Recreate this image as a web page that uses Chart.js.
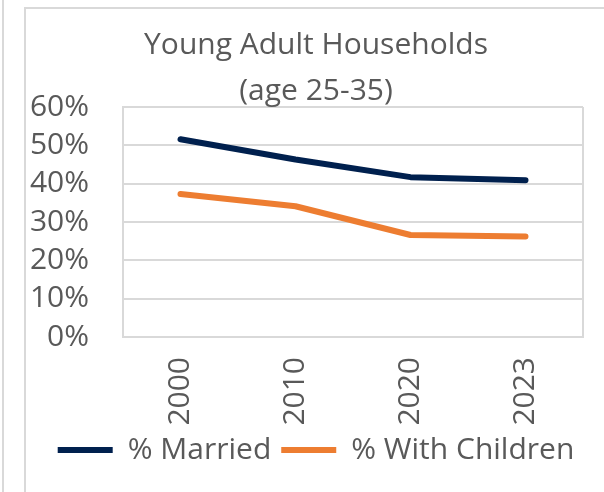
<!DOCTYPE html>
<html>
<head>
<meta charset="utf-8">
<script src="https://cdn.jsdelivr.net/npm/chart.js@4"></script>
<style>
  body { margin: 0; background: #fff; width: 604px; height: 492px; overflow: hidden; position: relative; }
  .edge { position: absolute; left: 2px; top: 0; width: 2px; height: 492px; background: #d9d9d9; }
  .frame { position: absolute; left: 24px; top: 7px; width: 600px; height: 520px; border: 2px solid #d9d9d9; }
  #wrap { position: absolute; left: 26px; top: 9px; width: 580px; height: 483px; }
</style>
</head>
<body>
<div class="edge"></div>
<div class="frame"></div>
<div id="wrap"><canvas id="chart"></canvas></div>

<script>
// data
const years = ["2000", "2010", "2020", "2023"];
const married = [51.6, 46.3, 41.7, 40.9];
const withChildren = [37.3, 34.1, 26.6, 26.2];
const yTicks = [0, 10, 20, 30, 40, 50, 60];

const grey = "#595959";
const gridGrey = "#d9d9d9";
const font = "'Open Sans', sans-serif";

const context = document.getElementById("chart").getContext("2d");

let line = new Chart(context, {
  type: "line",
  data: {
    labels: years,
    datasets: [{
      label: "% Married",
      data: married,
      borderColor: "#00204e",
      backgroundColor: "#00204e",
      borderWidth: 6,
      borderCapStyle: "round",
      borderJoinStyle: "round",
      pointRadius: 0,
      tension: 0
    }, {
      label: "% With Children",
      data: withChildren,
      borderColor: "#ed7d31",
      backgroundColor: "#ed7d31",
      borderWidth: 6,
      borderCapStyle: "round",
      borderJoinStyle: "round",
      pointRadius: 0,
      tension: 0
    }]
  },
  options: {
    responsive: true,
    maintainAspectRatio: false,
    animation: false,
    layout: { padding: { left: 0, right: 0, top: 0, bottom: 17 } },
    plugins: {
      title: {
        display: true,
        text: ["Young Adult Households", "(age 25-35)"],
        color: grey,
        font: { family: font, size: 30, weight: "normal", lineHeight: 1.55 },
        padding: { top: 13, bottom: -8 }
      },
      legend: {
        position: "bottom",
        labels: {
          color: grey,
          font: { family: font, size: 30 },
          usePointStyle: true,
          pointStyle: "line",
          pointStyleWidth: 55,
          padding: 10
        }
      },
      tooltip: { enabled: false }
    },
    scales: {
      x: {
        offset: true,
        afterFit: (scale) => { scale.height = 88; },
        grid: {
          offset: true,
          drawTicks: false,
          lineWidth: 2,
          color: (c) => (c.type === "scale" || c.index === 0) ? gridGrey : "transparent"
        },
        border: { display: true, color: gridGrey, width: 2 },
        ticks: {
          color: grey,
          font: { family: font, size: 30 },
          minRotation: 90,
          maxRotation: 90,
          autoSkip: false,
          padding: 20
        }
      },
      y: {
        min: yTicks[0],
        max: yTicks[yTicks.length - 1],
        afterFit: (scale) => { scale.width = 97; },
        afterBuildTicks: (scale) => { scale.ticks = yTicks.map(v => ({ value: v })); },
        grid: { color: gridGrey, lineWidth: 2, drawTicks: false },
        border: { display: true, color: gridGrey, width: 2 },
        ticks: {
          color: grey,
          font: { family: font, size: 30 },
          autoSkip: false,
          padding: 34,
          callback: (v) => v + "%"
        }
      },
      // empty strip on the right so title and legend centre on the whole frame
      yRight: {
        position: "right",
        min: yTicks[0],
        max: yTicks[yTicks.length - 1],
        afterFit: (scale) => { scale.width = 23; },
        grid: { display: false },
        border: { display: false },
        ticks: { display: false }
      }
    }
  }
});
</script>
</body>
</html>
